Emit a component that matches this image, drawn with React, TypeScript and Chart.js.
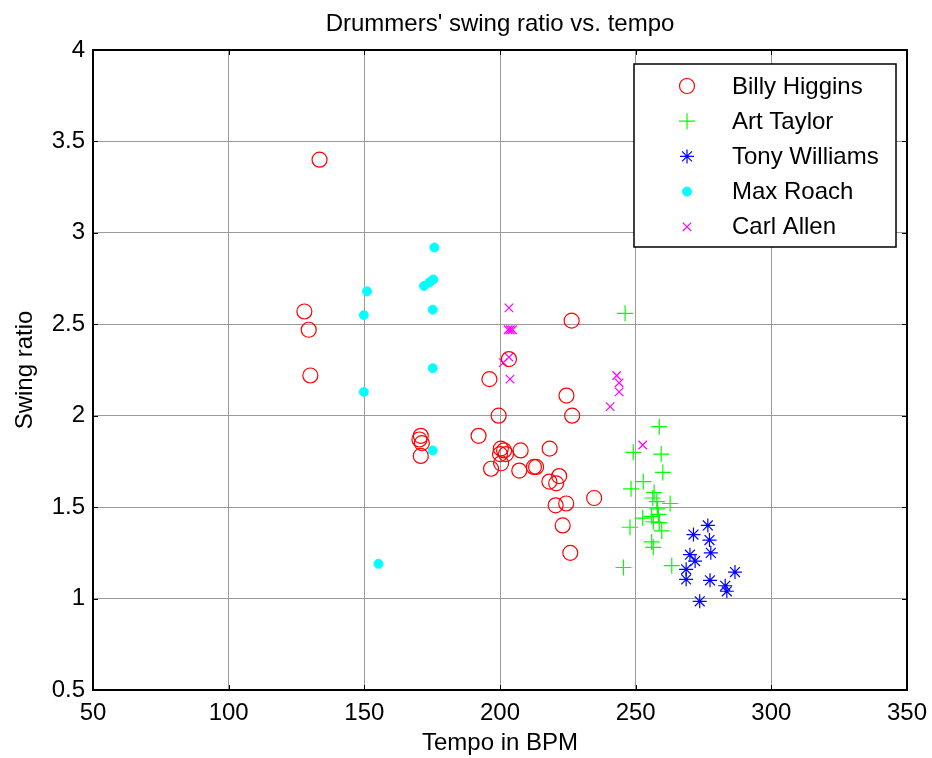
import React, { useEffect, useRef } from 'react';
import { Chart, registerables } from 'chart.js';
import { drawPoint } from 'chart.js/helpers';

Chart.register(...registerables);

// Tempo (BPM) and swing ratio per drummer
const higginsTempo = [133.5, 127.9, 129.5, 130.1, 226.4, 203.3, 196.1, 224.5, 199.5, 226.6, 192.1, 170.8, 170.3, 171.2, 170.8, 200.3, 202.2, 200.0, 201.5, 207.6, 218.3, 196.7, 200.4, 207.1, 212.5, 213.3, 221.8, 218.2, 220.7, 224.4, 220.5, 234.7, 223.1, 225.9];
const higginsRatio = [3.40, 2.57, 2.47, 2.22, 2.52, 2.31, 2.20, 2.11, 2.00, 2.00, 1.89, 1.89, 1.87, 1.85, 1.78, 1.82, 1.79, 1.79, 1.81, 1.81, 1.82, 1.71, 1.74, 1.70, 1.72, 1.72, 1.67, 1.64, 1.63, 1.52, 1.51, 1.55, 1.40, 1.25];

const taylorTempo = [246.1, 258.7, 249.1, 259.4, 260.0, 252.8, 248.3, 256.8, 256.3, 257.8, 262.7, 258.0, 252.6, 255.9, 258.4, 256.5, 258.7, 247.9, 259.6, 255.9, 256.5, 263.3, 245.5];
const taylorRatio = [2.56, 1.94, 1.80, 1.79, 1.69, 1.64, 1.60, 1.58, 1.55, 1.53, 1.52, 1.49, 1.44, 1.45, 1.46, 1.42, 1.415, 1.39, 1.37, 1.31, 1.28, 1.18, 1.17];

const williamsTempo = [276.6, 271.3, 277.2, 277.7, 270.0, 271.9, 268.6, 268.6, 277.4, 286.6, 283.0, 283.6, 273.6];
const williamsRatio = [1.40, 1.35, 1.32, 1.25, 1.24, 1.205, 1.16, 1.105, 1.10, 1.145, 1.07, 1.04, 0.985];

const roachTempo = [151.0, 172.0, 174.0, 175.4, 175.8, 175.2, 149.8, 175.2, 149.8, 175.2, 155.2];
const roachRatio = [2.68, 2.71, 2.73, 2.745, 2.92, 2.58, 2.55, 2.26, 2.13, 1.81, 1.19];

const allenTempo = [203.3, 203.0, 203.8, 204.6, 203.3, 201.2, 203.7, 243.0, 243.9, 243.9, 240.6, 252.6];
const allenRatio = [2.59, 2.47, 2.47, 2.47, 2.32, 2.29, 2.20, 2.22, 2.18, 2.13, 2.05, 1.84];

const tempoTicks = [50, 100, 150, 200, 250, 300, 350];
const ratioTicks = [0.5, 1, 1.5, 2, 2.5, 3, 3.5, 4];

const chartTitle = "Drummers' swing ratio vs. tempo";

const FONT = "'Liberation Sans', Arial, sans-serif";

type Series = {
  label: string;
  tempo: number[];
  ratio: number[];
  pointStyle: string;
  color: string;
  radius: number;
  filled: boolean;
  lineWidth: number;
};

const series: Series[] = [
  { label: 'Billy Higgins', tempo: higginsTempo, ratio: higginsRatio, pointStyle: 'circle', color: '#ff0000', radius: 7.5, filled: false, lineWidth: 1.2 },
  { label: 'Art Taylor', tempo: taylorTempo, ratio: taylorRatio, pointStyle: 'cross', color: '#00ff00', radius: 8, filled: false, lineWidth: 1.2 },
  { label: 'Tony Williams', tempo: williamsTempo, ratio: williamsRatio, pointStyle: 'star', color: '#0000ff', radius: 7, filled: false, lineWidth: 1.2 },
  { label: 'Max Roach', tempo: roachTempo, ratio: roachRatio, pointStyle: 'circle', color: '#00ffff', radius: 4.5, filled: true, lineWidth: 1 },
  { label: 'Carl Allen', tempo: allenTempo, ratio: allenRatio, pointStyle: 'crossRot', color: '#ff00ff', radius: 6, filled: false, lineWidth: 1.2 },
];

// Title centred over the axes, axes box with inward tick marks, and the boxed legend
const framePlugin = {
  id: 'matlabFrame',
  afterDraw(chart: any) {
    const { ctx, chartArea } = chart;
    const { left, right, top, bottom } = chartArea;
    const xs = chart.scales.x;
    const ys = chart.scales.y;
    ctx.save();

    ctx.fillStyle = '#000';
    ctx.font = `24px ${FONT}`;
    ctx.textAlign = 'center';
    ctx.textBaseline = 'middle';
    ctx.fillText(chartTitle, (left + right) / 2, top - 26);

    ctx.strokeStyle = '#000';
    ctx.lineWidth = 1;
    const tl = 5;
    ctx.beginPath();
    tempoTicks.forEach((t) => {
      const px = Math.round(xs.getPixelForValue(t)) + 0.5;
      ctx.moveTo(px, bottom);
      ctx.lineTo(px, bottom - tl);
      ctx.moveTo(px, top);
      ctx.lineTo(px, top + tl);
    });
    ratioTicks.forEach((t) => {
      const py = Math.round(ys.getPixelForValue(t)) + 0.5;
      ctx.moveTo(left, py);
      ctx.lineTo(left + tl, py);
      ctx.moveTo(right, py);
      ctx.lineTo(right - tl, py);
    });
    ctx.stroke();
    ctx.lineWidth = 2;
    ctx.strokeRect(left, top, right - left, bottom - top);

    // legend
    const bw = 262;
    const bh = 183;
    const bx = right - 11 - bw;
    const by = top + 14;
    ctx.fillStyle = '#fff';
    ctx.fillRect(bx, by, bw, bh);
    ctx.lineWidth = 1.5;
    ctx.strokeStyle = '#000';
    ctx.strokeRect(bx, by, bw, bh);
    ctx.font = `24px ${FONT}`;
    ctx.textBaseline = 'middle';
    ctx.textAlign = 'left';
    series.forEach((s, i) => {
      const cy = by + 22 + i * 35.2;
      ctx.strokeStyle = s.color;
      ctx.fillStyle = s.filled ? s.color : 'rgba(0,0,0,0)';
      ctx.lineWidth = s.lineWidth;
      drawPoint(ctx, { pointStyle: s.pointStyle as any, radius: s.radius, rotation: 0, borderWidth: s.lineWidth }, bx + 53, cy);
      ctx.fillStyle = '#000';
      ctx.fillText(s.label, bx + 98, cy + 1);
    });
    ctx.restore();
  },
};

export default function App() {
  const canvasRef = useRef<HTMLCanvasElement | null>(null);

  useEffect(() => {
    const canvas = canvasRef.current;
    if (!canvas) return;
    const chart = new Chart(canvas, {
      type: 'scatter',
      data: {
        datasets: series.map((s) => ({
          label: s.label,
          data: s.tempo.map((x, i) => ({ x, y: s.ratio[i] })),
          pointStyle: s.pointStyle as any,
          pointRadius: s.radius,
          pointHoverRadius: s.radius,
          borderColor: s.color,
          backgroundColor: s.filled ? s.color : 'rgba(0,0,0,0)',
          borderWidth: s.lineWidth,
          pointBorderWidth: s.lineWidth,
        })),
      },
      options: {
        responsive: false,
        animation: false,
        devicePixelRatio: 1,
        events: [],
        layout: { padding: { left: 0, right: 0, top: 50, bottom: 0 } },
        plugins: {
          legend: { display: false },
          tooltip: { enabled: false },
          title: { display: false },
        },
        scales: {
          x: {
            type: 'linear',
            min: 50,
            max: 350,
            afterBuildTicks: (scale: any) => {
              scale.ticks = tempoTicks.map((v) => ({ value: v }));
            },
            afterFit: (scale: any) => {
              scale.height = 68;
              scale.paddingLeft = 0;
              scale.paddingRight = 25;
            },
            border: { display: false },
            grid: { color: '#9a9a9a', lineWidth: 1, drawTicks: false },
            ticks: {
              color: '#000',
              padding: 9,
              maxRotation: 0,
              font: { family: FONT, size: 24 },
              callback: (v: any) => String(v),
            },
            title: {
              display: true,
              text: 'Tempo in BPM',
              color: '#000',
              font: { family: FONT, size: 24 },
              padding: { top: 0, bottom: 0 },
            },
          },
          y: {
            type: 'linear',
            min: 0.5,
            max: 4,
            afterBuildTicks: (scale: any) => {
              scale.ticks = ratioTicks.map((v) => ({ value: v }));
            },
            afterFit: (scale: any) => {
              scale.width = 93;
            },
            border: { display: false },
            grid: { color: '#9a9a9a', lineWidth: 1, drawTicks: false },
            ticks: {
              color: '#000',
              padding: 8,
              font: { family: FONT, size: 24 },
              callback: (v: any) => String(v),
            },
            title: {
              display: true,
              text: 'Swing ratio',
              color: '#000',
              font: { family: FONT, size: 24 },
              padding: { top: 10.6, bottom: 0 },
            },
          },
        },
      },
      plugins: [framePlugin],
    });
    return () => chart.destroy();
  }, []);

  return (
    <div style={{ position: 'absolute', left: 0, top: 0, width: 932, height: 758, background: '#fff' }}>
      <canvas ref={canvasRef} width={932} height={758} style={{ display: 'block' }} />
    </div>
  );
}
